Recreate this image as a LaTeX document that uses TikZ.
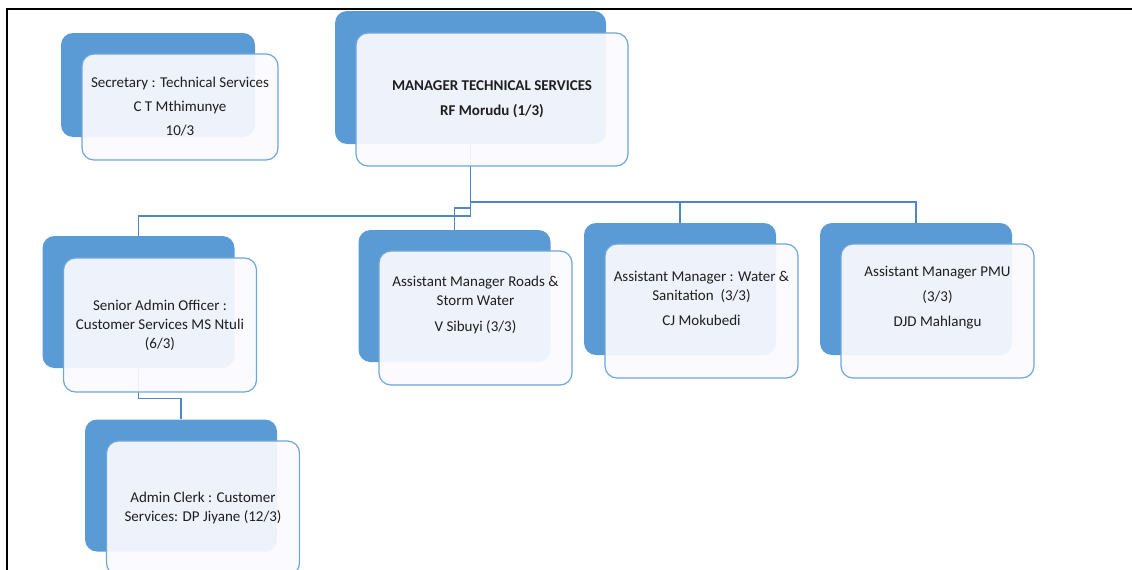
\documentclass[tikz,border=0pt]{standalone}
\usepackage{fontspec}
\setmainfont{Carlito}
\usetikzlibrary{positioning}
\definecolor{backblue}{HTML}{5B9BD5}
\definecolor{edgeblue}{HTML}{6FA6DB}
\definecolor{lineblue}{HTML}{4F86C6}
\colorlet{cardtext}{black!88}

\begin{document}
\begin{tikzpicture}[x=1pt,y=-1pt,
    backbox/.style={fill=backblue, rounded corners=12pt, inner sep=0pt,
        minimum width=192pt, minimum height=132pt},
    frontbox/.style={fill=blue!2, fill opacity=0.92, draw=edgeblue, line width=1.2pt,
        rounded corners=12pt, inner sep=0pt, minimum width=193pt, minimum height=134pt},
    boxtext/.style={align=center, text=cardtext, font=\fontsize{15}{19}\selectfont},
    conn/.style={draw=lineblue, line width=1.4pt}]
    \useasboundingbox (0,0) rectangle (1132,570);
    % page frame
    \draw[line width=2.6pt] (7,570) -- (7,9) -- (1132,9);

    % shadow cards
    \node[backbox, minimum width=194pt, minimum height=104pt] (secback) at (158,85) {};
    \node[backbox, minimum width=271pt, minimum height=133pt] (mgrback) at (470.5,77.5) {};
    \node[backbox] (adminback) at (138.5,302) {};
    \node[backbox] (clerkback) at (181,485.5) {};
    \node[backbox] (roadsback) at (454.5,296) {};
    \node[backbox] (waterback) at (680,289) {};
    \node[backbox] (pmuback) at (916,289) {};

    % reporting lines
    \coordinate (busR) at (470.5,202);
    \coordinate (busM) at (470.5,208);
    \coordinate (busL) at (470.5,216);
    \draw[conn] (mgrback.south) -- (busL) -| (adminback.north);
    \draw[conn] (busR) -| (pmuback.north);
    \draw[conn] (busR) -| (waterback.north);
    \draw[conn] (busM) -| (roadsback.north);
    \draw[conn] (adminback.south) -- ++(0,30) -| (clerkback.north);

    % front cards
    \node[frontbox, minimum width=196pt, minimum height=106pt] (sec) at ([shift={(22,22)}]secback.center) {};
    \node[frontbox, minimum width=272pt, minimum height=133pt] (mgr) at ([shift={(21.5,22)}]mgrback.center) {};
    \node[frontbox] (admin) at ([shift={(21.5,23)}]adminback.center) {};
    \node[frontbox] (clerk) at ([shift={(22,22.5)}]clerkback.center) {};
    \node[frontbox] (roads) at ([shift={(21,22)}]roadsback.center) {};
    \node[frontbox] (water) at ([shift={(21.5,22)}]waterback.center) {};
    \node[frontbox] (pmu) at ([shift={(21.5,22)}]pmuback.center) {};

    % card texts
    \node[boxtext] (sectext) at (sec.center) {Secretary : Technical Services\\[5pt] C T Mthimunye\\[5pt] 10/3};
    \node[boxtext, font=\fontsize{15}{19}\selectfont\bfseries] (mgrtext) at (mgr.center) {MANAGER TECHNICAL SERVICES\\[6pt] RF Morudu (1/3)};
    \node[boxtext] (admintext) at (admin.center) {Senior Admin Officer :\\ Customer Services MS Ntuli\\ (6/3)};
    \node[boxtext] (clerktext) at (clerk.center) {Admin Clerk : Customer\\ Services: DP Jiyane (12/3)};
    \node[boxtext] (roadstext) at ([yshift=13pt]roads.center) {Assistant Manager Roads \&\\ Storm Water\\[7pt] V Sibuyi (3/3)};
    \node[boxtext] (watertext) at ([yshift=12.5pt]water.center) {Assistant Manager : Water \&\\ Sanitation~~(3/3)\\[6pt] CJ Mokubedi};
    \node[boxtext] (pmutext) at ([yshift=13pt]pmu.center) {Assistant Manager PMU\\[6pt] (3/3)\\[6pt] DJD Mahlangu};
\end{tikzpicture}
\end{document}
